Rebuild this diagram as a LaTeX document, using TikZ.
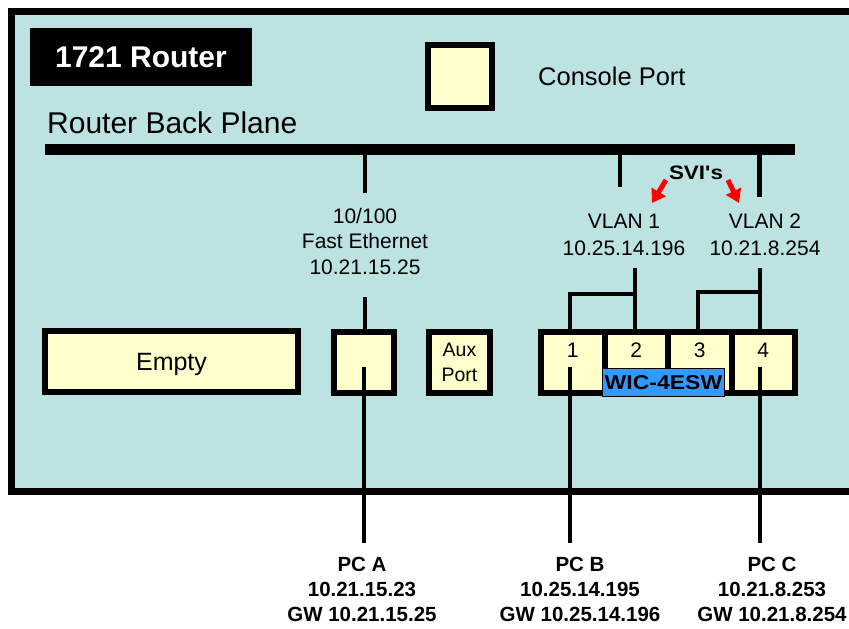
\documentclass[tikz,border=0pt]{standalone}
\usepackage{fontspec}
\setmainfont{Liberation Sans}
\newfontfamily\widebf[FakeStretch=1.15]{Liberation Sans Bold}
\usetikzlibrary{arrows.meta}
\definecolor{bgblue}{RGB}{188,226,226}
\definecolor{portyellow}{RGB}{255,255,204}
\definecolor{wicblue}{RGB}{51,153,255}
\tikzset{
  port/.style={draw=black, line width=6pt, fill=portyellow, inner sep=0pt},
  conn/.style={draw=black, line width=4.5pt},
  txt/.style={inner sep=0pt, text=black},
  numtxt/.style={inner sep=0pt, text=black, font=\fontsize{21}{24}\selectfont, text height=15pt, text depth=0pt},
  pclab/.style={inner sep=0pt, text=black, align=center, font=\bfseries\fontsize{20.5}{25}\selectfont},
  sviarrow/.style={draw=red, line width=5pt, -{Triangle[width=16pt,length=13pt]}}
}
\begin{document}
\begin{tikzpicture}[x=1pt,y=-1pt]
\useasboundingbox (0,0) rectangle (849,629);
\clip (0,0) rectangle (849,629);
\fill[white] (0,0) rectangle (849,629);
% router case
\draw[line width=7pt, fill=bgblue] (11.5,11.5) rectangle (880,491.5);
% title
\node[fill=black, minimum width=222pt, minimum height=58pt, inner sep=0pt, text=white,
      font=\bfseries\fontsize{30}{36}\selectfont, text height=21.5pt, text depth=0pt] (title) at (141,57) {1721 Router};
% console
\node[port, minimum width=64pt, minimum height=63pt] (console) at (460,76.5) {};
\node[txt, font=\fontsize{25.5}{30}\selectfont, anchor=base west] (consoletxt) at (538,85) {Console Port};
% back plane
\node[txt, font=\fontsize{30}{36}\selectfont, anchor=base west] (bptxt) at (47,133) {Router Back Plane};
\node[fill=black, minimum width=750pt, minimum height=11pt, inner sep=0pt] (bar) at (420,149.5) {};
\coordinate (dA) at (365,149.5); \coordinate (dAe) at (365,193);
\coordinate (dB) at (620,149.5); \coordinate (dBe) at (620,187);
\coordinate (dC) at (759.5,149.5); \coordinate (dCe) at (759.5,197);
\draw[conn] (dA) -- (dAe);
\draw[conn] (dB) -- (dBe);
\draw[conn] (dC) -- (dCe);
% labels
\node[txt, align=center, font=\fontsize{21}{25.5}\selectfont] (fetxt) at (365,241) {10/100\\Fast Ethernet\\10.21.15.25};
\node[txt, align=center, font=\fontsize{21}{26.5}\selectfont] (vlan1) at (624,235) {VLAN 1\\10.25.14.196};
\node[txt, align=center, font=\fontsize{21}{26.5}\selectfont] (vlan2) at (765,235) {VLAN 2\\10.21.8.254};
\node[txt, font=\widebf\fontsize{19.5}{22}\selectfont, text height=14pt, text depth=0pt] (svi) at (696,172) {SVI's};
\coordinate (a1s) at (666,180); \coordinate (a1e) at (652,203);
\coordinate (a2s) at (728,180); \coordinate (a2e) at (739,203);
\draw[sviarrow] (a1s) -- (a1e);
\draw[sviarrow] (a2s) -- (a2e);
% port row
\node[port, minimum width=253pt, minimum height=61pt, font=\fontsize{25}{30}\selectfont, text height=18pt, text depth=0pt] (empty) at (171.5,361.5) {Empty};
\node[port, minimum width=60pt, minimum height=61pt] (fe) at (364,362.5) {};
\node[port, minimum width=61pt, minimum height=61pt, align=center, font=\fontsize{19.5}{25}\selectfont] (aux) at (459.5,362.5) {Aux\\Port};
\node[port, minimum width=63.5pt, minimum height=61pt] (c1) at (572.75,362.5) {};
\node[port, minimum width=63.5pt, minimum height=61pt] (c2) at (636.25,362.5) {};
\node[port, minimum width=63.5pt, minimum height=61pt] (c3) at (699.75,362.5) {};
\node[port, minimum width=63.5pt, minimum height=61pt] (c4) at (763.25,362.5) {};
\node[numtxt] (n1) at ([yshift=13pt]c1.center) {1};
\node[numtxt] (n2) at ([yshift=13pt]c2.center) {2};
\node[numtxt] (n3) at ([yshift=13pt]c3.center) {3};
\node[numtxt] (n4) at ([yshift=13pt]c4.center) {4};
\node[draw=black, line width=1.2pt, fill=wicblue, minimum width=122pt, minimum height=28pt, inner sep=0pt,
      font=\widebf\fontsize{20}{22}\selectfont, text height=14.3pt, text depth=0pt] (wic) at (663.5,382.5) {WIC-4ESW};
% FE connection
\coordinate (feA) at (365,297);
\draw[conn] (feA) -- (feA |- fe.north);
% VLAN brackets
\coordinate (v1s) at (635,268); \coordinate (v1m) at (635,294);
\coordinate (v2s) at (760,268); \coordinate (v2m) at (760,292);
\coordinate (pA) at (364,367); \coordinate (pAe) at (364,543);
\coordinate (pB) at (570,367); \coordinate (pBe) at (570,543);
\coordinate (pC) at (760,367); \coordinate (pCe) at (760,543);
\coordinate (p3) at (698,300);
\draw[conn] (v1s) -- (v1s |- c2.north);
\draw[conn] (v1m) -| (pB |- c1.north);
\draw[conn] (v2s) -- (v2s |- c4.north);
\draw[conn] (v2m) -| (p3 |- c3.north);
% PC lines
\draw[conn] (pA) -- (pAe);
\draw[conn] (pB) -- (pBe);
\draw[conn] (pC) -- (pCe);
% PC labels
\node[pclab] (pca) at (362,589) {PC A\\10.21.15.23\\GW 10.21.15.25};
\node[pclab] (pcb) at (580,589) {PC B\\10.25.14.195\\GW 10.25.14.196};
\node[pclab] (pcc) at (772,589) {PC C\\10.21.8.253\\GW 10.21.8.254};
\end{tikzpicture}
\end{document}
